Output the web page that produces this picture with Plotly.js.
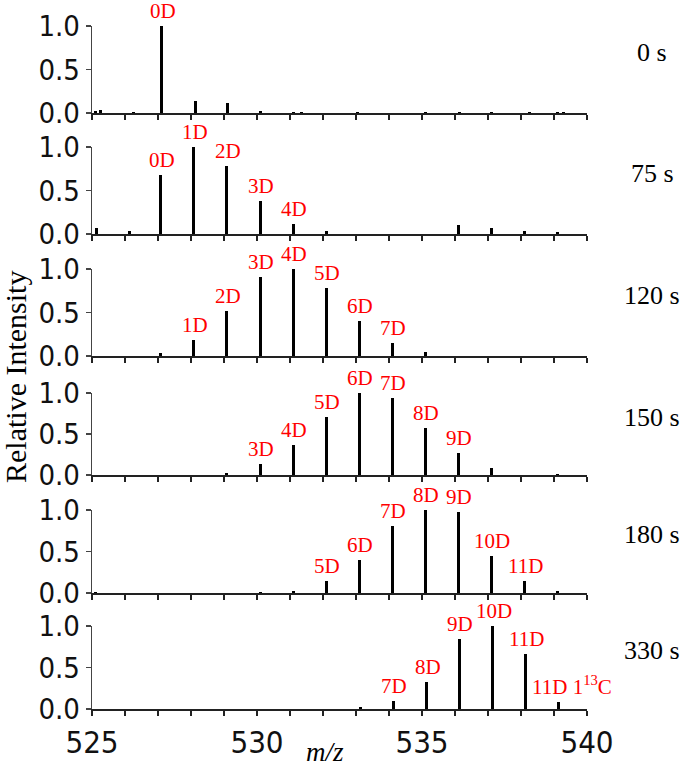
<!DOCTYPE html>
<html>
<head>
<meta charset="utf-8">
<script src="https://cdn.plot.ly/plotly-3.0.1.min.js"></script>
<style>html,body{margin:0;padding:0;background:#fff;}#chart{width:685px;height:769px;}</style>
</head>
<body>
<div id="chart"></div>
<script>
// ---- data ----
const timeLabels = ['0 s', '75 s', '120 s', '150 s', '180 s', '330 s'];

const mz_0s  = [525.12, 525.25, 526.25, 527.12, 528.14, 529.10, 530.12, 531.10, 531.35, 533.06, 535.10, 536.15, 537.10, 538.27, 539.10, 539.30];
const int_0s = [0.02, 0.04, 0.01, 1.00, 0.14, 0.12, 0.02, 0.01, 0.015, 0.01, 0.01, 0.012, 0.015, 0.01, 0.01, 0.01];
const lab_0s = ['', '', '', '0D', '', '', '', '', '', '', '', '', '', '', '', ''];

const mz_75s  = [525.14, 526.13, 527.08, 528.08, 529.09, 530.10, 531.10, 532.10, 536.10, 537.10, 538.12, 539.10];
const int_75s = [0.07, 0.04, 0.68, 1.00, 0.78, 0.38, 0.12, 0.04, 0.10, 0.07, 0.04, 0.02];
const lab_75s = ['', '', '0D', '1D', '2D', '3D', '4D', '', '', '', '', ''];

const mz_120s  = [527.08, 528.08, 529.09, 530.10, 531.10, 532.10, 533.10, 534.10, 535.10];
const int_120s = [0.03, 0.18, 0.52, 0.91, 1.00, 0.78, 0.40, 0.15, 0.05];
const lab_120s = ['', '1D', '2D', '3D', '4D', '5D', '6D', '7D', ''];

const mz_150s  = [529.09, 530.10, 531.10, 532.10, 533.10, 534.10, 535.10, 536.10, 537.10, 539.10];
const int_150s = [0.03, 0.13, 0.37, 0.71, 1.00, 0.94, 0.57, 0.27, 0.08, 0.01];
const lab_150s = ['', '3D', '4D', '5D', '6D', '7D', '8D', '9D', '', ''];

const mz_180s  = [525.12, 530.10, 531.10, 532.10, 533.10, 534.10, 535.10, 536.10, 537.10, 538.10, 539.10];
const int_180s = [0.01, 0.008, 0.03, 0.15, 0.40, 0.81, 1.00, 0.98, 0.44, 0.14, 0.03];
const lab_180s = ['', '', '', '5D', '6D', '7D', '8D', '9D', '10D', '11D', ''];

const mz_330s  = [533.14, 534.13, 535.14, 536.13, 537.15, 538.15, 539.15];
const int_330s = [0.02, 0.10, 0.32, 0.84, 1.00, 0.66, 0.08];
const lab_330s = ['', '7D', '8D', '9D', '10D', '11D', '11D 1<sup>13</sup>C'];

const yTickVals = [0, 0.5, 1.0];
const yTickText = ['0.0', '0.5', '1.0'];

// ---- build ----
const mzSets  = [mz_0s, mz_75s, mz_120s, mz_150s, mz_180s, mz_330s];
const intSets = [int_0s, int_75s, int_120s, int_150s, int_180s, int_330s];
const labSets = [lab_0s, lab_75s, lab_120s, lab_150s, lab_180s, lab_330s];

// panel pixel positions (top of 1.0, bottom 0.0) in page px
const panelPx = [[26, 113], [147, 234], [269, 356], [393, 475], [510, 593], [626, 709]];
const W = 685, H = 769;
const M = {l: 92, r: 98, t: 10, b: 60};
const plotH = H - M.t - M.b;
const plotW = W - M.l - M.r;
const fy = (py) => (H - M.b - py) / plotH;
const fx = (px) => (px - M.l) / plotW;

const sansFont = 'Liberation Sans Narrow, DejaVu Sans Condensed, sans-serif';
const serifFont = 'Liberation Serif, serif';

const data = [];
const annotations = [];
const layout = {
  width: W, height: H,
  margin: M,
  paper_bgcolor: '#fff', plot_bgcolor: '#fff',
  showlegend: false,
  bargap: 0,
  barmode: 'overlay',
  annotations: annotations
};

for (let i = 0; i < 6; i++) {
  const n = i + 1;
  const xa = 'x' + (n === 1 ? '' : n);
  const ya = 'y' + (n === 1 ? '' : n);
  data.push({
    type: 'bar', x: mzSets[i], y: intSets[i],
    xaxis: xa, yaxis: ya, width: 0.09,
    marker: {color: '#000', line: {width: 0}},
    hoverinfo: 'x+y'
  });
  layout['xaxis' + (n === 1 ? '' : n)] = {
    domain: [0, 1], range: [525, 540], anchor: ya,
    showline: true, linecolor: '#222', linewidth: 1.5,
    tickmode: 'linear', tick0: 525, dtick: 5,
    ticks: 'outside', ticklen: 5, tickwidth: 1.3, tickcolor: '#222',
    minor: {tickmode: 'linear', tick0: 525, dtick: 1, ticks: 'outside', ticklen: 5, tickwidth: 1.3, tickcolor: '#222', showgrid: false},
    showticklabels: n === 6,
    tickfont: {family: sansFont, size: 31, color: '#111'},
    showgrid: false, zeroline: false, fixedrange: true
  };
  const [pt, pb] = panelPx[i];
  layout['yaxis' + (n === 1 ? '' : n)] = {
    domain: [fy(pb), fy(pt)], range: [0, 1.0], anchor: xa,
    showline: true, linecolor: '#444', linewidth: 1.3,
    ticks: 'outside', ticklen: 5, tickwidth: 1.3, tickcolor: '#444',
    tickvals: yTickVals, ticktext: yTickText,
    tickfont: {family: sansFont, size: 29, color: '#111'},
    showgrid: false, zeroline: false, fixedrange: true
  };
  // peak labels
  labSets[i].forEach((t, k) => {
    if (!t) return;
    annotations.push({
      x: mzSets[i][k], y: intSets[i][k], xref: xa, yref: ya,
      text: t, showarrow: false, yanchor: 'bottom', xanchor: 'center',
      borderpad: 0, yshift: 2, xshift: t.indexOf('13') >= 0 ? 13 : 1,
      font: {family: serifFont, size: 21, color: '#ff0000'}
    });
  });
  // time label
  annotations.push({
    x: fx(652), y: 0.7, xref: 'paper', yref: ya,
    text: timeLabels[i], showarrow: false, xanchor: 'center', yanchor: 'middle',
    font: {family: serifFont, size: 26, color: '#000'}
  });
}

annotations.push({
  x: fx(15), y: fy(377), xref: 'paper', yref: 'paper',
  text: 'Relative Intensity', textangle: -90, showarrow: false,
  xanchor: 'center', yanchor: 'middle', borderpad: 0,
  font: {family: serifFont, size: 30, color: '#000'}
});
annotations.push({
  x: fx(325), y: fy(752), xref: 'paper', yref: 'paper',
  text: '<i>m/z</i>', showarrow: false, xanchor: 'center', yanchor: 'middle', borderpad: 0,
  font: {family: serifFont, size: 27, color: '#000'}
});

Plotly.newPlot('chart', data, layout, {displayModeBar: false, staticPlot: true});
</script>
</body>
</html>
